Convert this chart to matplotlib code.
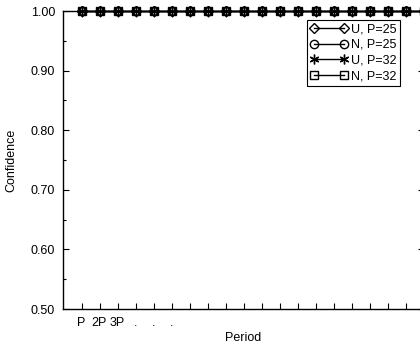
import numpy as np
import matplotlib.pyplot as plt
from matplotlib.ticker import MultipleLocator, FormatStrFormatter

plt.rcParams['font.family'] = ['Liberation Sans', 'DejaVu Sans']

# 数据
periods = [1, 2, 3, 4, 5, 6, 7, 8, 9, 10, 11, 12, 13, 14, 15, 16, 17, 18, 19, 20]
conf_u25 = [1.00, 1.00, 1.00, 1.00, 1.00, 1.00, 1.00, 1.00, 1.00, 1.00,
            1.00, 1.00, 1.00, 1.00, 1.00, 1.00, 1.00, 1.00, 1.00, 1.00]
conf_n25 = [1.00, 1.00, 1.00, 1.00, 1.00, 1.00, 1.00, 1.00, 1.00, 1.00,
            1.00, 1.00, 1.00, 1.00, 1.00, 1.00, 1.00, 1.00, 1.00, 1.00]
conf_u32 = [1.00, 1.00, 1.00, 1.00, 1.00, 1.00, 1.00, 1.00, 1.00, 1.00,
            1.00, 1.00, 1.00, 1.00, 1.00, 1.00, 1.00, 1.00, 1.00, 1.00]
conf_n32 = [1.00, 1.00, 1.00, 1.00, 1.00, 1.00, 1.00, 1.00, 1.00, 1.00,
            1.00, 1.00, 1.00, 1.00, 1.00, 1.00, 1.00, 1.00, 1.00, 1.00]
series_labels = ['U, P=25', 'N, P=25', 'U, P=32', 'N, P=32']
x_tick_labels = ['P', '2P', '3P', '.', '.', '.']

fig = plt.figure(figsize=(4.2, 3.48), dpi=100)
ax = fig.add_axes([63.5 / 420, 39 / 348, 360 / 420, 298 / 348])

# 空心标记，重叠后呈深色
markers = ['D', 'o', (6, 2, 0), 's']
sizes = [5, 6, 7, 5.5]
for vals, lab, m, ms in zip([conf_u25, conf_n25, conf_u32, conf_n32],
                            series_labels, markers, sizes):
    ax.plot(periods, vals, color='black', linewidth=1.0, marker=m,
            markersize=ms, markerfacecolor='none', markeredgecolor='black',
            markeredgewidth=1.0, label=lab, clip_on=False)

ax.set_xlim(0, 20)
ax.set_ylim(0.5, 1.0)
ax.set_xticks(range(1, 20))
ax.set_xticklabels(x_tick_labels + [''] * (19 - len(x_tick_labels)), fontsize=9)
ax.yaxis.set_major_locator(MultipleLocator(0.1))
ax.yaxis.set_minor_locator(MultipleLocator(0.05))
ax.yaxis.set_major_formatter(FormatStrFormatter('%.2f'))
ax.tick_params(axis='both', which='major', direction='in', length=4, width=0.8,
               labelsize=9, top=True, right=True, pad=6)
ax.tick_params(axis='y', which='minor', direction='in', length=2, width=0.8, right=True)
for sp in ax.spines.values():
    sp.set_linewidth(1.0)

ax.set_xlabel('Period', fontsize=9, labelpad=2)
ax.set_ylabel('Confidence', fontsize=9, labelpad=10)

leg = ax.legend(loc='upper right', bbox_to_anchor=(400 / 420, 1 - 20 / 348),
                bbox_transform=fig.transFigure, fontsize=9, numpoints=2,
                handlelength=3.0, handletextpad=0.3, borderpad=0.25,
                labelspacing=0.3, borderaxespad=0, fancybox=False,
                framealpha=1, edgecolor='black')
leg.get_frame().set_linewidth(0.8)

plt.savefig('out.png', dpi=100)
